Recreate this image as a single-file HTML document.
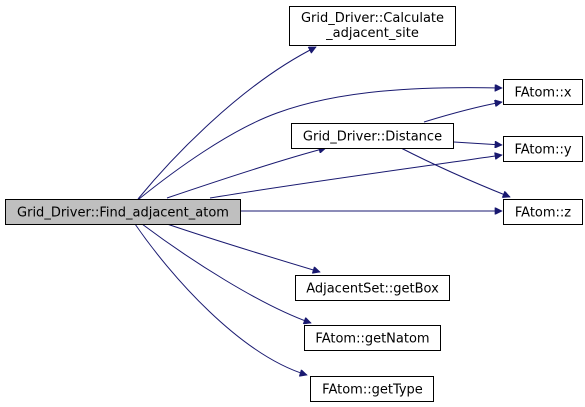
<!DOCTYPE html>
<html><head><meta charset="utf-8"><style>
html,body{margin:0;padding:0;background:#fff;}
svg{display:block;}
text{font-family:"DejaVu Sans","Liberation Sans",sans-serif;font-size:13px;fill:#000;}
</style></head><body>
<svg width="585" height="407" viewBox="0 0 585 407" xmlns="http://www.w3.org/2000/svg">
<defs>
<marker id="a" viewBox="0 0 10 10" refX="10" refY="5" markerWidth="10" markerHeight="7" markerUnits="userSpaceOnUse" orient="auto">
<path d="M0,0 L10,5 L0,10 z" fill="#191970" stroke="#191970"/>
</marker>
</defs>
<g fill="none" stroke="#191970" stroke-width="1" marker-end="url(#a)">
<path d="M138,199 C170,160 240,85 316,47"/>
<path d="M139,199 C175,170 230,130 277,113 C340,90 420,86 502,88"/>
<path d="M167,198 C220,180 280,160 326,148"/>
<path d="M210,198 C300,183 420,167 502,155"/>
<path d="M241,211 L502,211"/>
<path d="M167,224 C220,242 280,260 320,272"/>
<path d="M142,224 C190,260 260,305 311,323"/>
<path d="M135,224 C170,275 240,355 307,375"/>
<path d="M424,122 C450,114 475,107 502,102"/>
<path d="M454,142 C470,143 485,144 502,145"/>
<path d="M401,148 C440,168 480,185 510,197"/>
</g>
<g stroke="#000" stroke-width="1">
<rect x="5.5" y="199.5" width="235" height="25" fill="#bfbfbf"/>
<rect x="289.5" y="6.5" width="166" height="39" fill="#fff"/>
<rect x="503.5" y="79.5" width="79" height="25" fill="#fff"/>
<rect x="291.5" y="123.5" width="162" height="25" fill="#fff"/>
<rect x="503.5" y="136.5" width="79" height="25" fill="#fff"/>
<rect x="503.5" y="199.5" width="79" height="25" fill="#fff"/>
<rect x="295.5" y="275.5" width="154" height="25" fill="#fff"/>
<rect x="304.5" y="325.5" width="136" height="25" fill="#fff"/>
<rect x="310.5" y="376.5" width="123" height="25" fill="#fff"/>
</g>
<g text-anchor="middle">
<text x="123" y="216.5">Grid_Driver::Find_adjacent_atom</text>
<text x="372.5" y="22">Grid_Driver::Calculate</text>
<text x="372.5" y="37">_adjacent_site</text>
<text x="543" y="96.5">FAtom::x</text>
<text x="372.5" y="140.5">Grid_Driver::Distance</text>
<text x="543" y="153.5">FAtom::y</text>
<text x="543" y="216.5">FAtom::z</text>
<text x="372.5" y="292.5">AdjacentSet::getBox</text>
<text x="372.5" y="342.5">FAtom::getNatom</text>
<text x="372.5" y="393.5">FAtom::getType</text>
</g>
</svg>
</body></html>
